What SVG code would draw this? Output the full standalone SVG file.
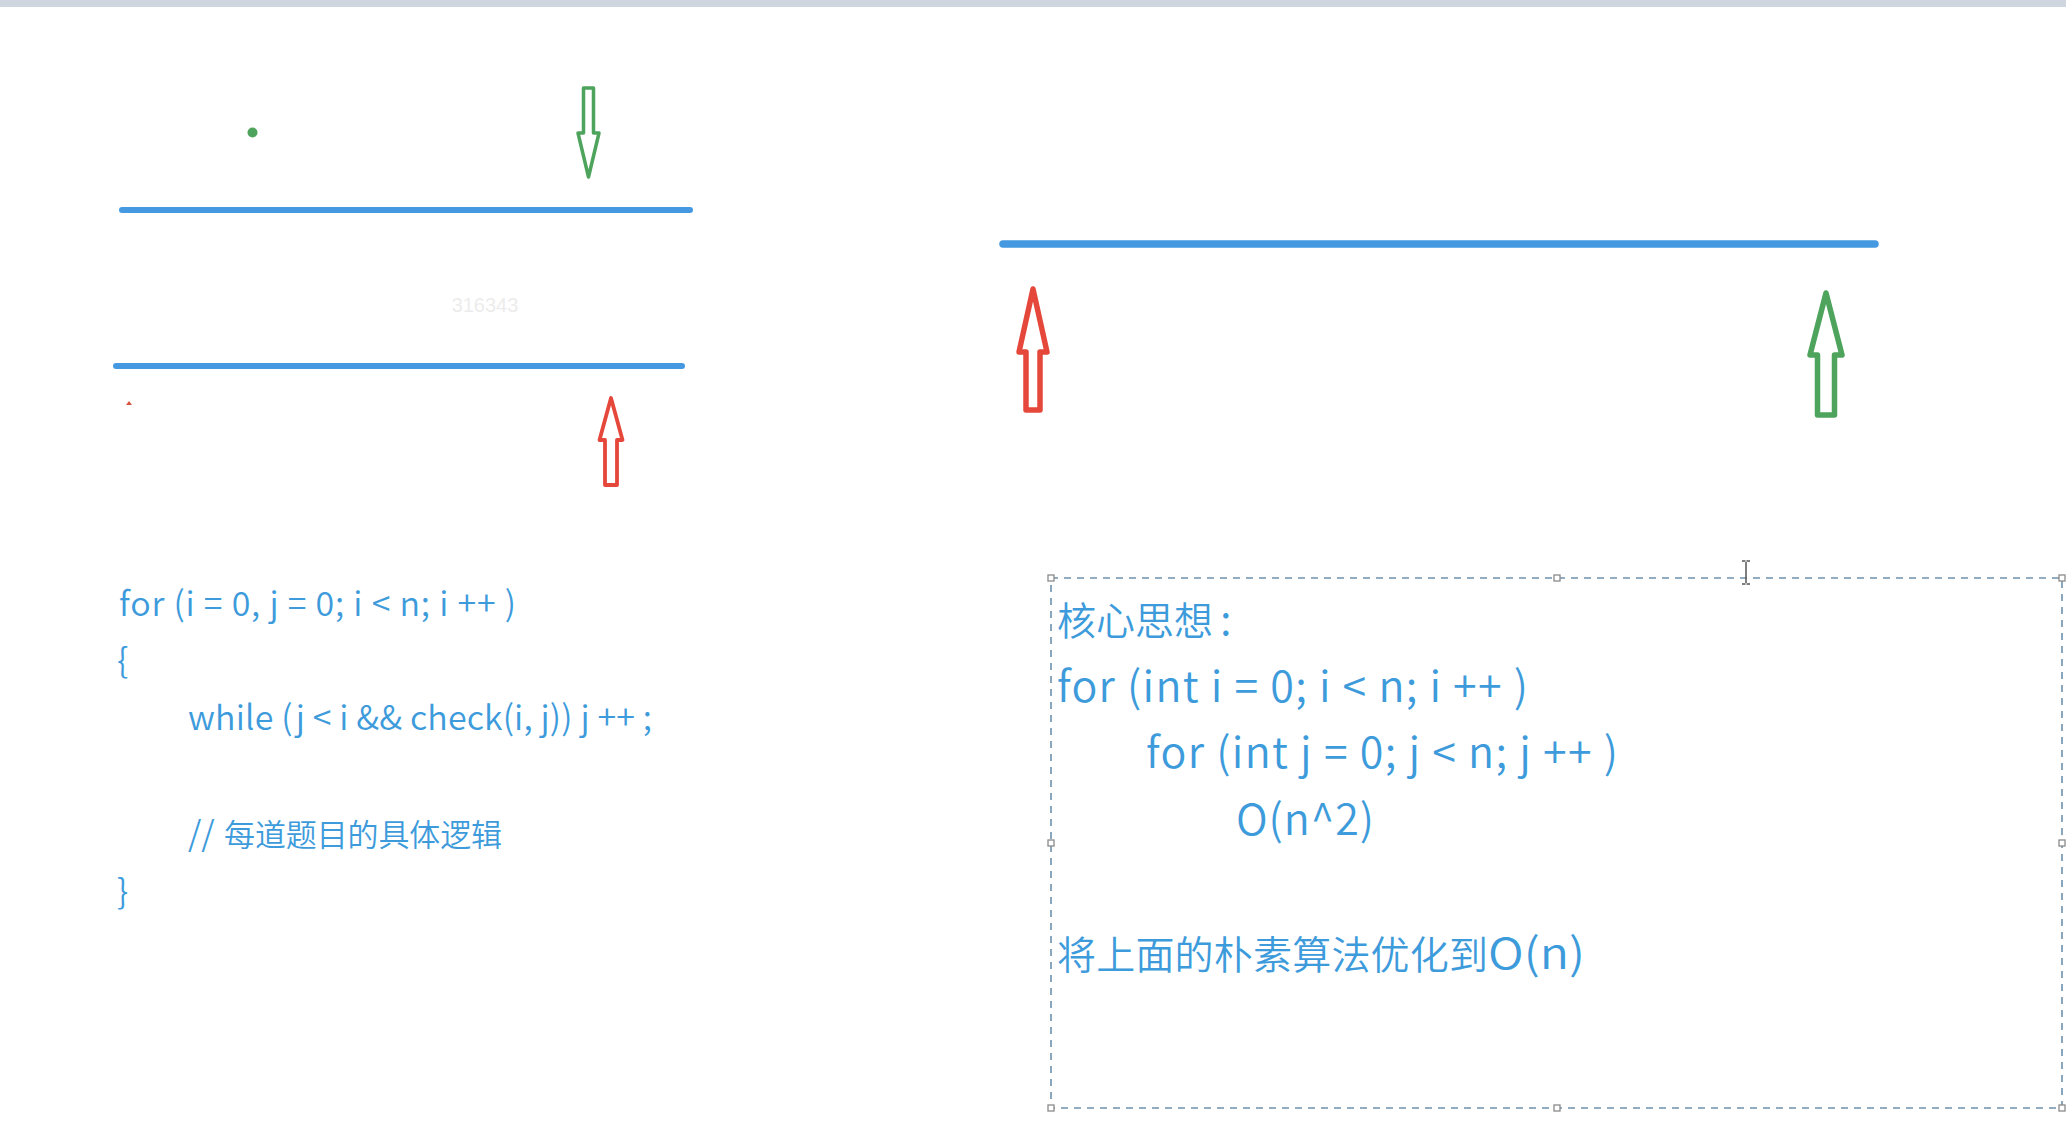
<svg xmlns="http://www.w3.org/2000/svg" width="2066" height="1130" viewBox="0 0 2066 1130">
<style>
.bl{stroke:#4499e0;stroke-linecap:round;fill:none}
.ar{fill:#fff;stroke-linejoin:round}
.red{stroke:#e5473b}
.grn{stroke:#4ea45c}
.code{font-family:"Noto Sans CJK SC","Noto Sans",sans-serif;font-weight:350;fill:#3d9bdb}
.l1{font-size:34px}
.z1{font-size:31px}
.l2{font-size:43px}
.z2{font-size:39px}
.hd{fill:#fff;stroke:#8a8a8a;stroke-width:1.3}
</style>
<rect x="0" y="0" width="2066" height="1130" fill="#fff"/>
<rect x="0" y="0" width="2066" height="7" fill="#cfd6e0"/>
<g id="lines">
<line class="bl" x1="122" y1="210" x2="690" y2="210" stroke-width="6"/>
<line class="bl" x1="116" y1="366" x2="682" y2="366" stroke-width="6"/>
<line class="bl" x1="1003" y1="244" x2="1875" y2="244" stroke-width="7.5"/>
</g>
<g id="arrows">
<polygon class="ar grn" stroke-width="3.5" points="588.5,177 599,133 593.5,133 593.5,88 583.5,88 583.5,133 578,133"/>
<polygon class="ar red" stroke-width="3.8" points="611,398 622.5,440 617,440 617,485 605,485 605,440 599.5,440"/>
<polygon class="ar red" stroke-width="5.5" points="1033,289 1047,352 1040,352 1040,410 1026,410 1026,352 1019,352"/>
<polygon class="ar grn" stroke-width="5.5" points="1826,293 1842,355 1834.5,355 1834.5,415 1817.5,415 1817.5,355 1810,355"/>
</g>
<g id="marks">
<circle cx="252.5" cy="132.5" r="5" fill="#4ea45c"/>
<polygon points="126,405 129,401 132,405" fill="#d9543f"/>
<text x="485" y="312" text-anchor="middle" font-family="Liberation Sans, Arial, sans-serif" font-size="20" fill="#ececec">316343</text>
</g>
<g id="left-code" class="code">
<text class="l1" x="119" y="616" textLength="397">for (i = 0, j = 0; i &lt; n; i ++ )</text>
<text class="l1" x="117" y="673">{</text>
<text class="l1" x="188" y="730" textLength="464">while (j &lt; i &amp;&amp; check(i, j)) j ++ ;</text>
<text x="188" y="846"><tspan class="l1">//</tspan><tspan class="z1" x="224" textLength="278">每道题目的具体逻辑</tspan></text>
<text class="l1" x="117" y="904">}</text>
</g>
<g id="right-box">
<rect x="1051" y="578" width="1011" height="530" fill="none" stroke="#6f92ae" stroke-width="1.6" stroke-dasharray="7 6"/>
<rect class="hd" x="1048" y="575" width="6" height="6"/>
<rect class="hd" x="1554" y="575" width="6" height="6"/>
<rect class="hd" x="2059" y="575" width="6" height="6"/>
<rect class="hd" x="1048" y="840" width="6" height="6"/>
<rect class="hd" x="2059" y="840" width="6" height="6"/>
<rect class="hd" x="1048" y="1105" width="6" height="6"/>
<rect class="hd" x="1554" y="1105" width="6" height="6"/>
<rect class="hd" x="2059" y="1105" width="6" height="6"/>
<g class="code">
<text x="1057" y="635"><tspan class="z2" textLength="156">核心思想</tspan><tspan class="l2" x="1220">:</tspan></text>
<text class="l2" x="1057" y="702" textLength="471">for (int i = 0; i &lt; n; i ++ )</text>
<text class="l2" x="1146" y="768" textLength="472">for (int j = 0; j &lt; n; j ++ )</text>
<text class="l2" x="1236" y="835" textLength="138">O(n^2)</text>
<text x="1057" y="969"><tspan class="z2" textLength="431">将上面的朴素算法优化到</tspan><tspan class="l2" x="1488" textLength="97" lengthAdjust="spacingAndGlyphs">O(n)</tspan></text>
</g>
</g>
<g id="cursor" stroke="#555" stroke-width="1.5" fill="none">
<path d="M1746,562 V583 M1742,561 H1745.5 M1746.5,561 H1750 M1742,584 H1745.5 M1746.5,584 H1750"/>
</g>
</svg>
